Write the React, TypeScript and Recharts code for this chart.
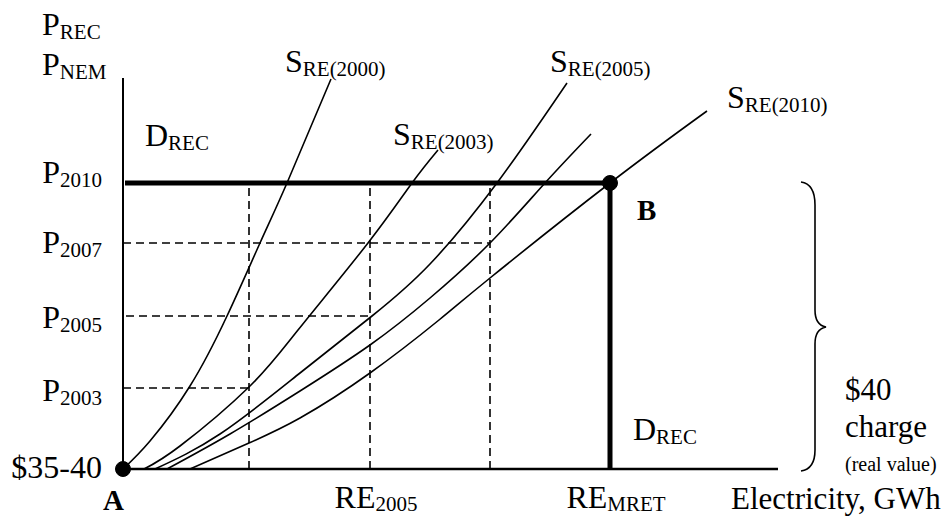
import React from "react";
import {
  LineChart,
  Line,
  XAxis,
  YAxis,
  ReferenceLine,
  ReferenceDot,
  Customized,
} from "recharts";

// Supply curves (x = electricity quantity, y = price)
const sre2000 = [
  { x: 0, y: 0 }, { x: 27, y: 28 }, { x: 67, y: 83 }, { x: 104, y: 153 },
  { x: 137, y: 226 }, { x: 164, y: 286 }, { x: 208, y: 390 },
];
const sre2003 = [
  { x: 21, y: 0 }, { x: 57, y: 23 }, { x: 126, y: 82 }, { x: 175, y: 139 },
  { x: 245, y: 226 }, { x: 289, y: 286 }, { x: 315, y: 319 },
];
const sre2005 = [
  { x: 32, y: 0 }, { x: 97, y: 35 }, { x: 177, y: 96 }, { x: 249, y: 153 },
  { x: 307, y: 205 }, { x: 374, y: 286 }, { x: 444, y: 386 },
];
const sreMid = [
  { x: 44, y: 0 }, { x: 107, y: 35 }, { x: 177, y: 78 }, { x: 247, y: 124 },
  { x: 307, y: 171 }, { x: 367, y: 226 }, { x: 422, y: 286 }, { x: 468, y: 335 },
];
const sre2010 = [
  { x: 67, y: 0 }, { x: 126, y: 26 }, { x: 177, y: 51 }, { x: 247, y: 96 },
  { x: 316, y: 149 }, { x: 367, y: 191 }, { x: 487, y: 286 }, { x: 584, y: 358 },
];

// Price levels and quantities
const priceTicks = [0, 81, 153, 226, 286];
const priceLabels = ["$35-40", "P|2003", "P|2005", "P|2007", "P|2010"];
const qtyTicks = [247, 487];
const qtyLabels = ["RE|2005", "RE|MRET"];
const qty2003 = 126;
const qty2005 = 247;
const qty2007 = 367;
const qtyMret = 487;
const p2003 = 81;
const p2005 = 153;
const p2007 = 226;
const p2010 = 286;

const FONT = "Liberation Serif";
const MAIN = 32;
const SUB = 21;

function SubText({ x, y, main, sub, anchor = "start", size = MAIN, subSize = SUB, weight = "normal", dx = 0, subDy = 4 }: any) {
  return (
    <text x={x} y={y} dx={dx} textAnchor={anchor} fontFamily={FONT} fill="#000" fontWeight={weight}>
      <tspan fontSize={size}>{main}</tspan>
      {sub ? (
        <tspan fontSize={subSize} dy={subDy}>
          {sub}
        </tspan>
      ) : null}
    </text>
  );
}

const yTickDy: Record<number, number> = { 0: 9, 81: 13, 153: 12, 226: 10, 286: 0 };

function YTick(props: any) {
  const { x, y, payload } = props;
  const idx = priceTicks.indexOf(payload.value);
  const [main, sub] = (priceLabels[idx] || "").split("|");
  return <SubText x={x} y={y + (yTickDy[payload.value] ?? 10)} main={main} sub={sub} anchor="end" />;
}

function XTick(props: any) {
  const { x, y, payload } = props;
  const idx = qtyTicks.indexOf(payload.value);
  const [main, sub] = (qtyLabels[idx] || "").split("|");
  return <SubText x={x + 6} y={y + 39} main={main} sub={sub} anchor="middle" subDy={3} />;
}

function Annotations() {
  return (
    <g>
      <SubText x={42} y={35} main="P" sub="REC" />
      <SubText x={42} y={75} main="P" sub="NEM" />
      <SubText x={145} y={146} main="D" sub="REC" />
      <SubText x={285} y={72} main="S" sub="RE(2000)" />
      <SubText x={393} y={145} main="S" sub="RE(2003)" />
      <SubText x={550} y={72} main="S" sub="RE(2005)" />
      <SubText x={727} y={108} main="S" sub="RE(2010)" />
      <SubText x={633} y={440} main="D" sub="REC" />
      <text x={637} y={220} fontFamily={FONT} fontSize={29} fontWeight="bold" fill="#000">B</text>
      <text x={103} y={510} fontFamily={FONT} fontSize={29} fontWeight="bold" fill="#000">A</text>
      <text x={845} y={400} fontFamily={FONT} fontSize={31} fill="#000">$40</text>
      <text x={845} y={437} fontFamily={FONT} fontSize={31} fill="#000">charge</text>
      <text x={845} y={471} fontFamily={FONT} fontSize={20} fill="#000">(real value)</text>
      <text x={731} y={509} fontFamily={FONT} fontSize={31} fill="#000">Electricity, GWh</text>
      <path
        d="M 801 182 Q 815 184 815 205 L 815 310 Q 815 325 826 327 Q 815 329 815 344 L 815 450 Q 815 469 801 471"
        fill="none"
        stroke="#000"
        strokeWidth={1.6}
      />
    </g>
  );
}

const curveStyle = { stroke: "#000", strokeWidth: 1.6 };
const dash = "8 5";

export default function App() {
  return (
    <div style={{ position: "absolute", left: 0, top: 0, background: "#fff" }}>
      <LineChart
        width={951}
        height={517}
        margin={{ top: 78, right: 173, bottom: 18, left: 63 }}
      >
        <XAxis
          type="number"
          dataKey="x"
          domain={[0, 655]}
          ticks={qtyTicks}
          tick={<XTick />}
          tickLine={false}
          tickSize={0}
          tickMargin={0}
          interval={0}
          height={30}
          axisLine={{ stroke: "#000", strokeWidth: 2.5 }}
          allowDataOverflow
        />
        <YAxis
          type="number"
          domain={[0, 391]}
          ticks={priceTicks}
          tick={<YTick />}
          tickLine={false}
          tickSize={0}
          tickMargin={21}
          interval={0}
          width={60}
          axisLine={{ stroke: "#000", strokeWidth: 2 }}
          allowDataOverflow
        />
        {/* dashed guides */}
        <ReferenceLine segment={[{ x: 0, y: p2003 }, { x: qty2003, y: p2003 }]} stroke="#000" strokeWidth={1.6} strokeDasharray={dash} />
        <ReferenceLine segment={[{ x: 3, y: p2005 }, { x: qty2005, y: p2005 }]} stroke="#000" strokeWidth={1.6} strokeDasharray={dash} />
        <ReferenceLine segment={[{ x: 0, y: p2007 }, { x: qty2007, y: p2007 }]} stroke="#000" strokeWidth={1.6} strokeDasharray={dash} />
        <ReferenceLine segment={[{ x: qty2003, y: 0 }, { x: qty2003, y: p2010 }]} stroke="#000" strokeWidth={1.6} strokeDasharray={dash} />
        <ReferenceLine segment={[{ x: qty2005, y: 0 }, { x: qty2005, y: p2010 }]} stroke="#000" strokeWidth={1.6} strokeDasharray={dash} />
        <ReferenceLine segment={[{ x: qty2007, y: 0 }, { x: qty2007, y: p2010 }]} stroke="#000" strokeWidth={1.6} strokeDasharray={dash} />
        {/* D_REC thick lines */}
        <ReferenceLine segment={[{ x: 2, y: p2010 }, { x: qtyMret, y: p2010 }]} stroke="#000" strokeWidth={5} />
        <ReferenceLine segment={[{ x: qtyMret, y: 0 }, { x: qtyMret, y: p2010 }]} stroke="#000" strokeWidth={5} />
        <Line data={sre2000} dataKey="y" type="natural" dot={false} isAnimationActive={false} {...curveStyle} />
        <Line data={sre2003} dataKey="y" type="natural" dot={false} isAnimationActive={false} {...curveStyle} />
        <Line data={sre2005} dataKey="y" type="natural" dot={false} isAnimationActive={false} {...curveStyle} />
        <Line data={sreMid} dataKey="y" type="natural" dot={false} isAnimationActive={false} {...curveStyle} />
        <Line data={sre2010} dataKey="y" type="natural" dot={false} isAnimationActive={false} {...curveStyle} />
        <ReferenceDot x={0} y={0} r={7.5} fill="#000" stroke="#000" />
        <ReferenceDot x={qtyMret} y={p2010} r={7.5} fill="#000" stroke="#000" />
        <Customized component={<Annotations />} />
      </LineChart>
    </div>
  );
}
